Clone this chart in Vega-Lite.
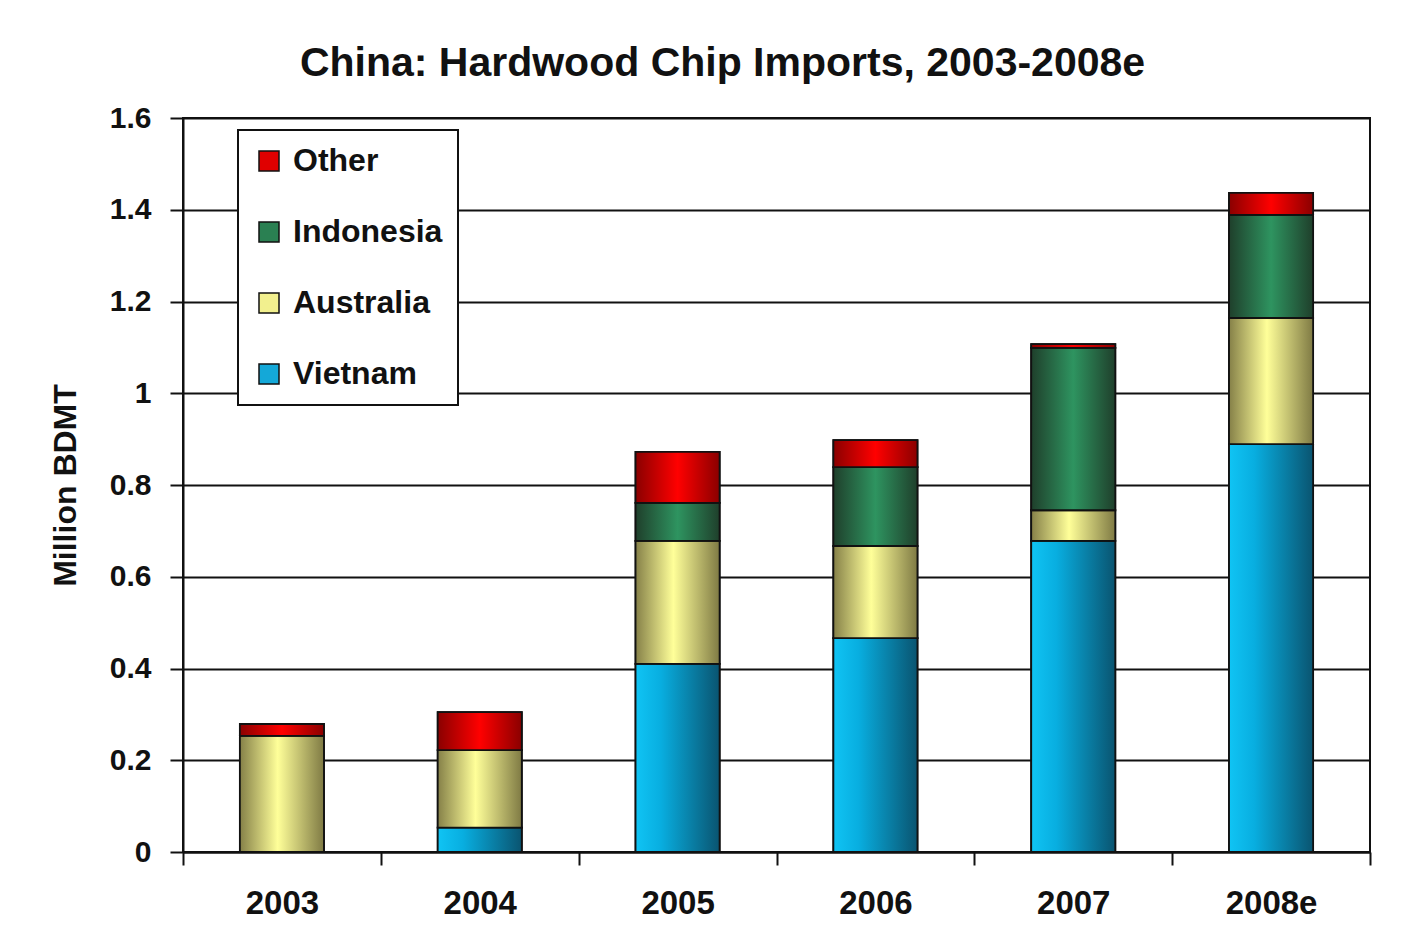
{
  "$schema": "https://vega.github.io/schema/vega-lite/v6.json",
  "width": 1187,
  "height": 734,
  "autosize": {"type": "none"},
  "padding": {"left": 183, "top": 118, "right": 51, "bottom": 81},
  "background": "white",
  "title": {
    "text": "China: Hardwood Chip Imports, 2003-2008e",
    "font": "Liberation Sans",
    "fontSize": 41,
    "fontWeight": "bold",
    "color": "#111111",
    "anchor": "middle",
    "frame": "group",
    "dx": -54,
    "dy": 55,
    "offset": 41,
    "baseline": "alphabetic"
  },
  "data": {
    "values": [
      {"year": "2003", "country": "Australia", "value": 0.253},
      {"year": "2003", "country": "Other", "value": 0.026},
      {"year": "2004", "country": "Vietnam", "value": 0.053},
      {"year": "2004", "country": "Australia", "value": 0.169},
      {"year": "2004", "country": "Other", "value": 0.083},
      {"year": "2005", "country": "Vietnam", "value": 0.41},
      {"year": "2005", "country": "Australia", "value": 0.268},
      {"year": "2005", "country": "Indonesia", "value": 0.083},
      {"year": "2005", "country": "Other", "value": 0.111},
      {"year": "2006", "country": "Vietnam", "value": 0.466},
      {"year": "2006", "country": "Australia", "value": 0.201},
      {"year": "2006", "country": "Indonesia", "value": 0.172},
      {"year": "2006", "country": "Other", "value": 0.059},
      {"year": "2007", "country": "Vietnam", "value": 0.678},
      {"year": "2007", "country": "Australia", "value": 0.067},
      {"year": "2007", "country": "Indonesia", "value": 0.354},
      {"year": "2007", "country": "Other", "value": 0.008},
      {"year": "2008e", "country": "Vietnam", "value": 0.889},
      {"year": "2008e", "country": "Australia", "value": 0.275},
      {"year": "2008e", "country": "Indonesia", "value": 0.225},
      {"year": "2008e", "country": "Other", "value": 0.048}
    ]
  },
  "transform": [
    {"calculate": "indexof(['Vietnam','Australia','Indonesia','Other'], datum.country)", "as": "stackOrder"},
    {"stack": "value", "groupby": ["year"], "sort": [{"field": "stackOrder"}], "as": ["v0", "v1"]}
  ],
  "encoding": {
    "x": {
      "field": "year",
      "type": "ordinal",
      "scale": {"paddingInner": 0, "paddingOuter": 0},
      "axis": {
        "title": null,
        "labelAngle": 0,
        "tickBand": "extent",
        "labelFont": "Liberation Sans",
        "labelFontWeight": "bold",
        "labelFontSize": 33,
        "labelColor": "#111111",
        "labelPadding": 22,
        "tickSize": 13,
        "tickColor": "#111111",
        "tickWidth": 2,
        "domainColor": "#111111",
        "domainWidth": 2,
        "grid": false
      }
    },
    "y": {
      "field": "v0",
      "type": "quantitative",
      "scale": {"domain": [0, 1.6], "nice": false},
      "axis": {
        "title": "Million BDMT",
        "titleFont": "Liberation Sans",
        "titleFontWeight": "bold",
        "titleFontSize": 32,
        "titleColor": "#111111",
        "titleAngle": 270,
        "titleX": -118,
        "titleY": 367,
        "titleAlign": "center",
        "titleBaseline": "middle",
        "values": [0, 0.2, 0.4, 0.6, 0.8, 1, 1.2, 1.4, 1.6],
        "format": ".1~f",
        "labelFont": "Liberation Sans",
        "labelFontWeight": "bold",
        "labelFontSize": 30,
        "labelColor": "#111111",
        "labelPadding": 19,
        "tickSize": 13,
        "tickColor": "#111111",
        "tickWidth": 2,
        "domainColor": "#111111",
        "domainWidth": 2,
        "grid": true,
        "gridColor": "#111111",
        "gridWidth": 2
      }
    },
    "y2": {"field": "v1"}
  },
  "layer": [
    {
      "mark": {"type": "bar", "stroke": "#111111", "strokeWidth": 1.8, "width": {"band": 0.425}},
      "encoding": {
        "color": {
          "field": "country",
          "type": "nominal",
          "scale": {
            "domain": ["Other", "Indonesia", "Australia", "Vietnam"],
            "range": ["#e00000", "#2a8052", "#f2f08e", "#14a8d8"]
          },
          "legend": {
            "title": null,
            "orient": "none",
            "legendX": 55,
            "legendY": 12,
            "symbolType": "square",
            "symbolSize": 400,
            "symbolStrokeColor": "#111111",
            "symbolStrokeWidth": 1.5,
            "symbolOpacity": 1,
            "labelFont": "Liberation Sans",
            "labelFontWeight": "bold",
            "labelFontSize": 32,
            "labelColor": "#111111",
            "labelOffset": 8,
            "rowPadding": 39,
            "padding": 15,
            "strokeColor": "#111111",
            "fillColor": "white"
          }
        }
      }
    },
    {
      "transform": [{"filter": "datum.country === 'Vietnam'"}],
      "mark": {"type": "bar", "stroke": "#111111", "strokeWidth": 1.8, "width": {"band": 0.425},
        "color": {"gradient": "linear", "x1": 0, "y1": 0, "x2": 1, "y2": 0, "stops": [{"offset": 0, "color": "#10c4f4"}, {"offset": 0.3, "color": "#08aee0"}, {"offset": 1, "color": "#0a5470"}]}}
    },
    {
      "transform": [{"filter": "datum.country === 'Australia'"}],
      "mark": {"type": "bar", "stroke": "#111111", "strokeWidth": 1.8, "width": {"band": 0.425},
        "color": {"gradient": "linear", "x1": 0, "y1": 0, "x2": 1, "y2": 0, "stops": [{"offset": 0, "color": "#858048"}, {"offset": 0.45, "color": "#ffff99"}, {"offset": 1, "color": "#7f7a44"}]}}
    },
    {
      "transform": [{"filter": "datum.country === 'Indonesia'"}],
      "mark": {"type": "bar", "stroke": "#111111", "strokeWidth": 1.8, "width": {"band": 0.425},
        "color": {"gradient": "linear", "x1": 0, "y1": 0, "x2": 1, "y2": 0, "stops": [{"offset": 0, "color": "#1f3f2b"}, {"offset": 0.5, "color": "#2e9460"}, {"offset": 1, "color": "#1f3f2b"}]}}
    },
    {
      "transform": [{"filter": "datum.country === 'Other'"}],
      "mark": {"type": "bar", "stroke": "#111111", "strokeWidth": 1.8, "width": {"band": 0.425},
        "color": {"gradient": "linear", "x1": 0, "y1": 0, "x2": 1, "y2": 0, "stops": [{"offset": 0, "color": "#8a0000"}, {"offset": 0.5, "color": "#ff0000"}, {"offset": 1, "color": "#8a0000"}]}}
    }
  ],
  "config": {
    "view": {"stroke": "#111111", "strokeWidth": 2},
    "legend": {"strokeWidth": 2}
  }
}
